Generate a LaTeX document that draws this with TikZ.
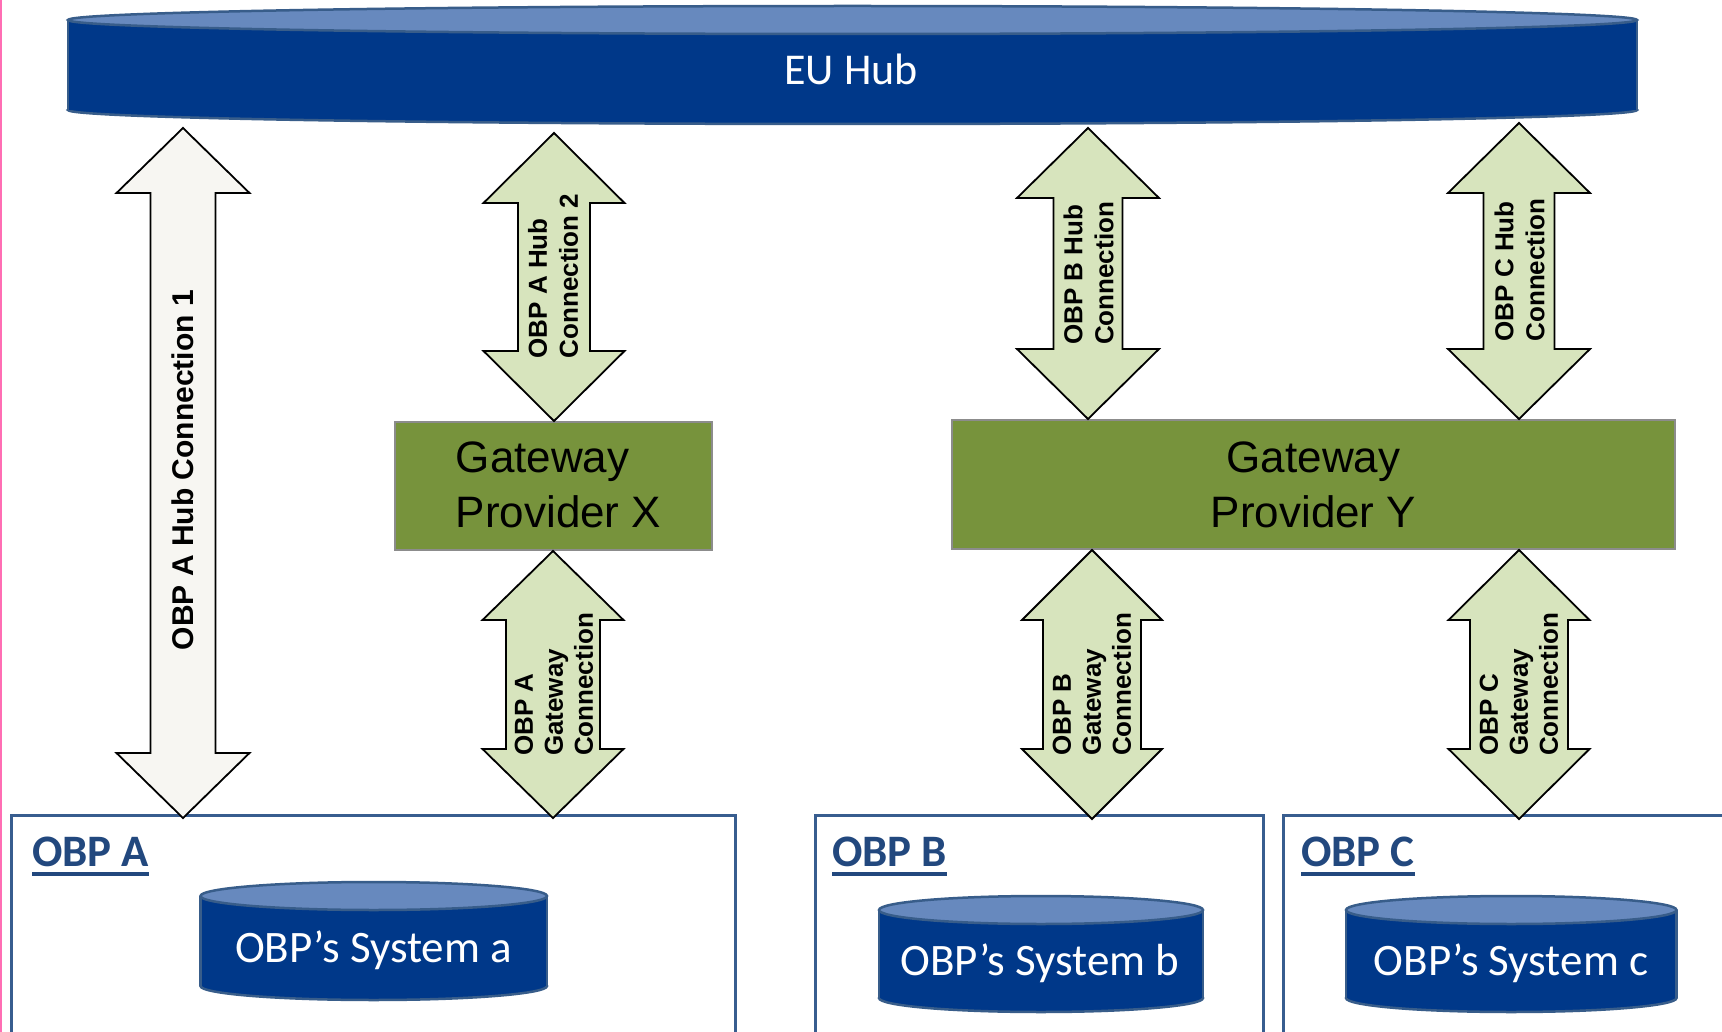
\documentclass[tikz,border=0pt]{standalone}
\usepackage{fontspec}
\newfontfamily\arialf{Liberation Sans}
\newfontfamily\calib{Carlito}
\definecolor{hubblue}{RGB}{0,56,137}
\definecolor{hubtop}{RGB}{103,137,190}
\definecolor{hubedge}{RGB}{56,93,138}
\definecolor{gwgreen}{RGB}{119,147,60}
\definecolor{gwedge}{RGB}{140,140,140}
\definecolor{arrgreen}{RGB}{215,228,189}
\definecolor{arrwhite}{RGB}{247,246,242}
\definecolor{obpedge}{RGB}{56,93,143}
\definecolor{obplabel}{RGB}{34,72,126}
\definecolor{pinkedge}{RGB}{255,110,180}
% block double arrow: #1 cx, #2 top, #3 bottom, #4 head half width, #5 shaft half width, #6 head length, #7 fill
\newcommand\blockarrow[7]{%
  \draw[line width=1.8pt, line join=miter, fill=#7]
    (#1,#2) -- ({#1+#4},{#2+#6}) -- ({#1+#5},{#2+#6}) -- ({#1+#5},{#3-#6})
    -- ({#1+#4},{#3-#6}) -- (#1,#3) -- ({#1-#4},{#3-#6}) -- ({#1-#5},{#3-#6})
    -- ({#1-#5},{#2+#6}) -- ({#1-#4},{#2+#6}) -- cycle;}
% database cylinder: #1 left, #2 right, #3 top ellipse centre y, #4 bottom ellipse centre y, #5 y radius
\newcommand\dbcyl[5]{%
  \pgfmathsetmacro\cylcx{(#1+#2)/2}%
  \pgfmathsetmacro\cylrx{(#2-#1)/2}%
  \filldraw[fill=hubblue, draw=hubedge, line width=2.5pt] (\cylcx,#4) ellipse [x radius=\cylrx pt, y radius=#5pt];
  \fill[hubblue] (#1,#3) rectangle (#2,#4);
  \draw[hubedge, line width=2.5pt] (#1,#3) -- (#1,#4) (#2,#3) -- (#2,#4);
  \filldraw[fill=hubtop, draw=hubedge, line width=2.5pt] (\cylcx,#3) ellipse [x radius=\cylrx pt, y radius=#5pt];}
\tikzset{
  gwbox/.style={fill=gwgreen, draw=gwedge, line width=1.5pt},
  gwtext/.style={font=\arialf\fontsize{44}{55}\selectfont, inner sep=0pt},
  arrtext/.style={rotate=90, align=left, inner sep=0pt, font=\arialf\bfseries\fontsize{26}{31}\selectfont},
  arrtextlow/.style={rotate=90, align=left, inner sep=0pt, font=\arialf\bfseries\fontsize{26}{30}\selectfont},
  obpbox/.style={draw=obpedge, line width=3pt},
  obplbl/.style={anchor=base west, inner sep=0pt, text=obplabel, font=\calib\bfseries\fontsize{45}{54}\selectfont},
  systext/.style={anchor=base, inner sep=0pt, text=white, font=\calib\fontsize{45}{52}\selectfont}
}
\begin{document}
\begin{tikzpicture}[x=1pt,y=-1pt]
\useasboundingbox (0,0) rectangle (1722,1032);
\clip (0,0) rectangle (1722,1032);
\fill[white] (0,0) rectangle (1722,1032);
\draw[pinkedge, line width=1.5pt] (0.75,0) -- (0.75,1032);

% EU Hub
\dbcyl{68}{1637}{20}{110}{14}
\node[anchor=base, inner sep=0pt, text=white, font=\calib\fontsize{44}{50}\selectfont] (hub) at (851,85) {EU Hub};

% Gateways
\draw[gwbox] (395,422) rectangle (712,550);
\node[gwtext, align=left] (gwx) at (558.5,485) {Gateway\\Provider X};
\draw[gwbox] (952,420) rectangle (1675,549);
\node[gwtext, align=center] (gwy) at (1313.5,485) {Gateway\\Provider Y};

% OBP boxes
\draw[obpbox] (11,1045) -- (11,815) -- (735,815) -- (735,1045);
\draw[obpbox] (815,1045) -- (815,815) -- (1263.5,815) -- (1263.5,1045);
\draw[obpbox] (1283.5,1045) -- (1283.5,815) -- (1740,815);

\node[obplbl] (lblA) at (32,866) {OBP A};
\draw[obplabel, line width=3.5pt] ([yshift=-8pt]lblA.base west) -- ([yshift=-8pt]lblA.base east);
\node[obplbl] (lblB) at (832,866) {OBP B};
\draw[obplabel, line width=3.5pt] ([yshift=-8pt]lblB.base west) -- ([yshift=-8pt]lblB.base east);
\node[obplbl] (lblC) at (1301,866) {OBP C};
\draw[obplabel, line width=3.5pt] ([yshift=-8pt]lblC.base west) -- ([yshift=-8pt]lblC.base east);

% systems
\dbcyl{200.5}{547}{896}{986}{14}
\node[systext] (sysa) at (373.5,962) {OBP’s System a};
\dbcyl{879}{1203}{910}{998}{14}
\node[systext] (sysb) at (1040,975) {OBP’s System b};
\dbcyl{1346}{1676.5}{910}{998}{14}
\node[systext] (sysc) at (1511,975) {OBP’s System c};

% arrows
\blockarrow{183}{128}{818}{66.5}{32.5}{65}{arrwhite}
\node[rotate=90, inner sep=0pt, font=\arialf\bfseries\fontsize{30}{36}\selectfont] (a1) at (183,470) {OBP A Hub Connection 1};

\blockarrow{554}{133}{421}{70.5}{36}{70}{arrgreen}
\node[arrtext] (a2) at (553,276) {OBP A Hub\\Connection 2};

\blockarrow{1088}{128}{419}{71}{34.5}{70}{arrgreen}
\node[arrtext] (b1) at (1088.5,273.5) {OBP B Hub\\Connection};

\blockarrow{1519}{123}{419}{71}{35.5}{70}{arrgreen}
\node[arrtext] (c1) at (1519.5,270) {OBP C Hub\\Connection};

\blockarrow{553}{551}{818}{70.5}{47}{69}{arrgreen}
\node[arrtextlow] (a3) at (554,684.5) {OBP A\\Gateway\\Connection};

\blockarrow{1092}{550}{819}{70}{49}{70}{arrgreen}
\node[arrtextlow] (b2) at (1092,684.5) {OBP B\\Gateway\\Connection};

\blockarrow{1519}{550}{819}{70.5}{49}{70}{arrgreen}
\node[arrtextlow] (c2) at (1519,684.5) {OBP C\\Gateway\\Connection};
\end{tikzpicture}
\end{document}
